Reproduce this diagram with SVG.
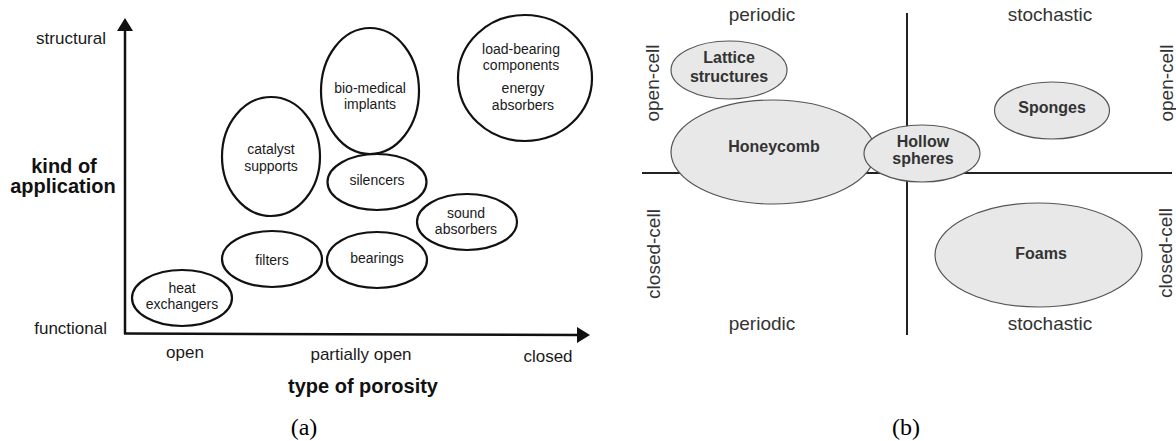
<svg xmlns="http://www.w3.org/2000/svg" width="1176" height="441" viewBox="0 0 1176 441">
<style>
.a-ell{fill:none;stroke:#111;stroke-width:2.2}
.a-t{font-family:"Liberation Sans",Arial,sans-serif;font-size:14px;fill:#1a1a1a;text-anchor:middle}
.a-ax{font-family:"Liberation Sans",Arial,sans-serif;font-size:17px;fill:#1a1a1a}
.a-big{font-family:"Liberation Sans",Arial,sans-serif;font-size:20px;font-weight:bold;fill:#111;text-anchor:middle}
.cap{font-family:"Liberation Serif","Times New Roman",serif;font-size:24px;fill:#000;text-anchor:middle}
.b-ell{fill:#e8e8e8;stroke:#555;stroke-width:1.2}
.b-t{font-family:"Liberation Sans",Arial,sans-serif;font-size:16px;font-weight:bold;fill:#333;text-anchor:middle}
.b-lab{font-family:"Liberation Sans",Arial,sans-serif;font-size:19px;fill:#333;text-anchor:middle}
.b-line{stroke:#222;stroke-width:2;fill:none}
</style>
<rect width="1176" height="441" fill="#fff"/>

<!-- Panel (a) axes -->
<g id="a-axes">
  <line x1="125" y1="28" x2="125" y2="334" stroke="#111" stroke-width="2.5"/>
  <polygon points="125,18 117,31 133,31" fill="#111"/>
  <line x1="124" y1="333.5" x2="580" y2="335" stroke="#111" stroke-width="2.5"/>
  <polygon points="590,335 577,327 577,343" fill="#111"/>
  <text class="a-ax" x="106" y="44" text-anchor="end">structural</text>
  <text class="a-ax" x="107" y="334" text-anchor="end">functional</text>
  <text class="a-big" x="64" y="173">kind of</text>
  <text class="a-big" x="63" y="193">application</text>
  <text class="a-ax" x="185" y="358" text-anchor="middle">open</text>
  <text class="a-ax" x="361" y="360" text-anchor="middle">partially open</text>
  <text class="a-ax" x="548" y="362" text-anchor="middle">closed</text>
  <text class="a-big" x="363" y="393">type of porosity</text>
  <text class="cap" x="304" y="435">(a)</text>
</g>

<g id="a-heat"><ellipse class="a-ell" cx="182" cy="298" rx="50" ry="28"/><text class="a-t" x="182" y="293">heat</text><text class="a-t" x="182" y="309">exchangers</text></g>
<g id="a-filters"><ellipse class="a-ell" cx="272" cy="259" rx="50" ry="28"/><text class="a-t" x="272" y="265">filters</text></g>
<g id="a-bearings"><ellipse class="a-ell" cx="377" cy="260" rx="50" ry="28"/><text class="a-t" x="377" y="263">bearings</text></g>
<g id="a-sound"><ellipse class="a-ell" cx="467" cy="222" rx="50" ry="28"/><text class="a-t" x="466" y="218">sound</text><text class="a-t" x="466" y="234">absorbers</text></g>
<g id="a-silencers"><ellipse class="a-ell" cx="377" cy="182" rx="49.5" ry="28"/><text class="a-t" x="377" y="185">silencers</text></g>
<g id="a-catalyst"><ellipse class="a-ell" cx="271" cy="156.5" rx="49" ry="59.5"/><text class="a-t" x="271" y="154">catalyst</text><text class="a-t" x="271" y="171">supports</text></g>
<g id="a-bio"><ellipse class="a-ell" cx="370" cy="91" rx="49" ry="63"/><text class="a-t" x="370" y="93">bio-medical</text><text class="a-t" x="370" y="109">implants</text></g>
<g id="a-load"><ellipse class="a-ell" cx="525" cy="78" rx="67" ry="63"/><text class="a-t" x="521" y="54">load-bearing</text><text class="a-t" x="521" y="70">components</text><text class="a-t" x="523" y="93">energy</text><text class="a-t" x="523" y="110">absorbers</text></g>

<!-- Panel (b) -->
<g id="b-axes">
  <line class="b-line" x1="907" y1="13" x2="907" y2="335"/>
  <line class="b-line" x1="642" y1="173" x2="1172" y2="173"/>
  <text class="b-lab" x="762" y="21">periodic</text>
  <text class="b-lab" x="1050" y="21">stochastic</text>
  <text class="b-lab" x="762" y="330">periodic</text>
  <text class="b-lab" x="1050" y="330">stochastic</text>
  <text class="b-lab" transform="translate(659,83) rotate(-90)">open-cell</text>
  <text class="b-lab" transform="translate(660,254) rotate(-90)">closed-cell</text>
  <text class="b-lab" transform="translate(1173,83) rotate(-90)">open-cell</text>
  <text class="b-lab" transform="translate(1172,253) rotate(-90)">closed-cell</text>
  <text class="cap" x="906" y="435">(b)</text>
</g>

<g id="b-lattice"><ellipse class="b-ell" cx="729" cy="70" rx="58" ry="29"/><text class="b-t" x="729" y="63">Lattice</text><text class="b-t" x="729" y="82">structures</text></g>
<g id="b-honeycomb"><ellipse class="b-ell" cx="773" cy="152" rx="102" ry="52"/><text class="b-t" x="774" y="152">Honeycomb</text></g>
<g id="b-hollow"><ellipse class="b-ell" cx="922" cy="153.5" rx="58" ry="28.5"/><text class="b-t" x="923" y="147">Hollow</text><text class="b-t" x="923" y="164">spheres</text></g>
<g id="b-sponges"><ellipse class="b-ell" cx="1052" cy="110.5" rx="57.5" ry="28.5"/><text class="b-t" x="1052" y="113">Sponges</text></g>
<g id="b-foams"><ellipse class="b-ell" cx="1038.5" cy="255" rx="103.5" ry="52"/><text class="b-t" x="1041" y="259">Foams</text></g>
</svg>
